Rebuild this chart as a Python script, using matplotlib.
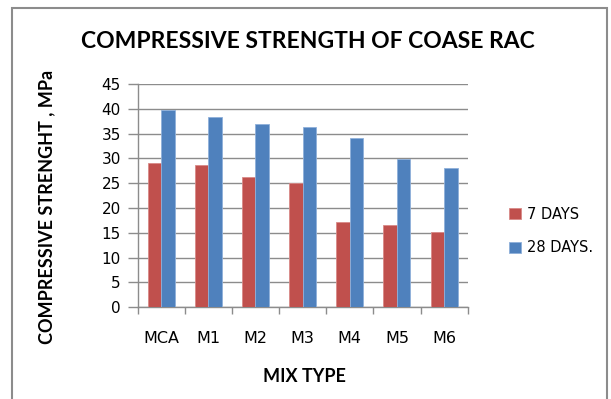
import matplotlib
matplotlib.use("Agg")
import matplotlib.pyplot as plt
import numpy as np
from matplotlib.patches import Rectangle

categories = ["MCA", "M1", "M2", "M3", "M4", "M5", "M6"]
days7 = [29.1, 28.6, 26.2, 25.0, 17.2, 16.5, 15.1]
days28 = [39.7, 38.4, 36.9, 36.4, 34.1, 29.9, 28.1]
series_names = ["7 DAYS", "28 DAYS."]
yticks = [0, 5, 10, 15, 20, 25, 30, 35, 40, 45]

red = "#C0504D"
blue = "#4F81BD"
grid_c = "#8C8C8C"

fig = plt.figure(figsize=(6.11, 3.99), dpi=100)
fig.patch.set_facecolor("white")
ax = fig.add_axes([137.5/611, 1-307.3/399, (467.7-137.5)/611, (307.3-84)/399])

x = np.arange(len(categories))
w = 0.286
b1 = ax.bar(x - w/2, days7, w, color=red, edgecolor="#D88A88", linewidth=0.6, label=series_names[0], zorder=3)
b2 = ax.bar(x + w/2, days28, w, color=blue, edgecolor="#8FB0DA", linewidth=0.6, label=series_names[1], zorder=3)

ax.set_xlim(-0.5, len(categories) - 0.5)
ax.set_ylim(0, 45)
ax.set_yticks(yticks)
ax.set_yticklabels([str(t) for t in yticks], fontsize=11, family="DejaVu Sans")
ax.yaxis.grid(True, color=grid_c, linewidth=1.0, zorder=0)
ax.set_axisbelow(True)

ax.set_xticks(np.arange(-0.5, len(categories), 1.0))
ax.set_xticklabels([])
ax.set_xticks(x, minor=True)
ax.set_xticklabels(categories, minor=True, fontsize=11.5, family="DejaVu Sans")
ax.tick_params(axis="x", which="major", length=5, color=grid_c, width=1)
ax.tick_params(axis="x", which="minor", length=0, pad=17)
ax.tick_params(axis="y", length=7, color=grid_c, width=1, pad=5)

for s in ["top", "right"]:
    ax.spines[s].set_visible(False)
for s in ["left", "bottom"]:
    ax.spines[s].set_color(grid_c)
    ax.spines[s].set_linewidth(1.0)

fig.text(308/611, 1-42/399, "COMPRESSIVE STRENGTH OF COASE RAC", ha="center", va="center",
         fontsize=16.5, fontweight="bold", family="Lato")
fig.text(47/611, 1-207/399, "COMPRESSIVE STRENGHT , MPa", ha="center", va="center",
         rotation=90, fontsize=13, fontweight="bold", family="Lato")
fig.text(304/611, 1-377/399, "MIX TYPE", ha="center", va="center",
         fontsize=13, fontweight="bold", family="Lato")

leg = fig.legend(handles=[b1, b2], labels=series_names, loc="center left",
                 bbox_to_anchor=(496/611, 1-231/399), frameon=False,
                 handlelength=0.8, handleheight=0.8, handletextpad=0.4, labelspacing=1.3,
                 prop={"family": "DejaVu Sans", "size": 10.5})

fig.patches.append(Rectangle((12/611, -0.05), (607-12)/611, 1.05 - 8/399,
                             transform=fig.transFigure, fill=False, edgecolor="#8C8C8C",
                             linewidth=1.5))

fig.savefig("out.png", dpi=100)
